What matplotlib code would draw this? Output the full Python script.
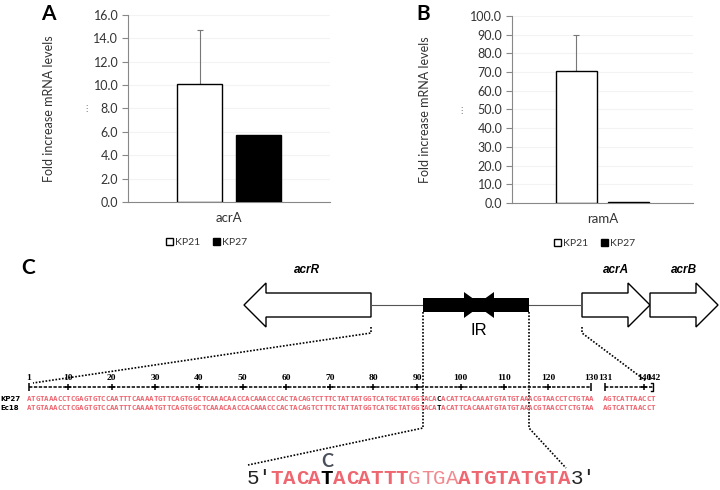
import numpy as np
import matplotlib
matplotlib.use('Agg')
import matplotlib.pyplot as plt
from matplotlib.patches import Polygon, Rectangle

plt.rcParams['font.family'] = ['Lato', 'DejaVu Sans']

##################################################################################################################################
# data
##################################################################################################################################

strains = ['KP21', 'KP27']
geneA = 'acrA'
acrAMeans = [10.1, 5.7]
acrAErr = [4.6, 0.0]
geneB = 'ramA'
ramAMeans = [70.5, 0.5]
ramAErr = [19.3, 0.0]

ticksA = np.arange(0, 17, 2)
ticksB = np.arange(0, 101, 10)

# gene map (name, tail x, tip x)
geneNames = ['acrR', 'acrA', 'acrB']
geneTails = [371, 582, 650]
geneTips = [244, 650, 718]
irStart, irEnd = 423, 529

rulerLabels = [1, 10, 20, 30, 40, 50, 60, 70, 80, 90, 100, 110, 120, 130, 131, 140, 142]
rowNames = ['KP27', 'Ec18']
kp27Seq = ('ATGTAAACCTCGAGTGTCCAATTTCAAAATGTTCAGTGGCTCAAACAACCACAAACCCACTACAGTCTTTCTATTATGGTCATGCTATGG'
           'TACACACATTCACAAATGTATGTAAACGTAACCTCTGTAA' 'AGTCATTAACCT')
ec18Seq = ('ATGTAAACCTCGAGTGTCCAATTTCAAAATGTTCAGTGGCTCAAACAACCACAAACCCACTACAGTCTTTCTATTATGGTCATGCTATGG'
           'TACATACATTCACAAATGTATGTAAACGTAACCTCTGTAA' 'AGTCATTAACCT')
mutPos = 95
irSeq = 'TACATACATTTGTGAATGTATGTA'
irThin = [11, 12, 13, 14]   # the TGTG spacer
irMut = 4
mutBase = 'C'

RED = '#ee6670'

def seqX(pos):
    if pos <= 130:
        return 29 + (pos - 1) * 4.36
    return 605 + (pos - 131) * 4.36

##################################################################################################################################
# bar panels
##################################################################################################################################

def barPanel(fig, rect, gene, means, errs, ticks, ylabelX, legendX):
    ax = fig.add_axes(rect)
    off = 0.145
    xs = [-off, off]
    ax.bar(xs[0], means[0], 0.225, color='white', edgecolor='black', lw=1.0, label=strains[0], zorder=3)
    ax.bar(xs[1], means[1], 0.225, color='black', edgecolor='black', lw=1.0, label=strains[1], zorder=3)
    for x, m, e in zip(xs, means, errs):
        if e > 0:
            ax.errorbar(x, m, yerr=[[0], [e]], color='#777777', lw=0.8, capsize=2, capthick=0.8, zorder=2)
    ax.set_xlim(-0.5, 0.5)
    ax.set_ylim(ticks[0], ticks[-1])
    ax.set_yticks(ticks)
    ax.set_yticklabels(['%.1f' % t for t in ticks], fontsize=9, color='#333333')
    ax.set_xticks([0])
    ax.set_xticklabels([gene], fontsize=9.5, color='#333333')
    ax.tick_params(axis='x', length=0, pad=7)
    ax.tick_params(axis='y', length=4, color='#888888', pad=3)
    for s in ['top', 'right']:
        ax.spines[s].set_visible(False)
    ax.spines['left'].set_color('#888888')
    ax.spines['bottom'].set_color('#888888')
    ax.yaxis.grid(True, color='#f3f3f3', lw=0.8)
    ax.set_axisbelow(True)
    ax.set_ylabel('Fold increase mRNA levels', fontsize=9, color='#333333')
    ax.yaxis.set_label_coords(ylabelX, 0.5)
    ax.legend(loc='upper left', bbox_to_anchor=(legendX, -0.14), ncol=2, frameon=False,
              fontsize=7.5, handlelength=0.7, handleheight=0.7, handletextpad=0.2,
              columnspacing=1.2, labelcolor='#333333')
    return ax

fig = plt.figure(figsize=(7.2, 4.9), dpi=100)

axA = barPanel(fig, [128/720, (490-202)/490, 202/720, 187/490], geneA, acrAMeans, acrAErr, ticksA, -0.36, 0.14)
axB = barPanel(fig, [512/720, (490-203)/490, 181/720, 187/490], geneB, ramAMeans, ramAErr, ticksB, -0.45, 0.18)

##################################################################################################################################
# panel C drawn in pixel-like coordinates
##################################################################################################################################

ax = fig.add_axes([0, 0, 1, 1], zorder=-1)
ax.set_xlim(0, 720)
ax.set_ylim(490, 0)
ax.axis('off')

ax.text(48, 14, 'A', fontsize=15, weight='bold', ha='center', va='center')
ax.text(423, 14, 'B', fontsize=15, weight='bold', ha='center', va='center')
ax.text(28, 268, 'C', fontsize=15, weight='bold', ha='center', va='center')
ax.text(86, 108, '\u22ee', fontsize=6, color='#666666', ha='center', va='center', family='DejaVu Sans')
ax.text(461, 110, '\u22ee', fontsize=6, color='#666666', ha='center', va='center', family='DejaVu Sans')

yc = 305
shaftH, headH, headL = 12, 22, 22
for name, tail, tip in zip(geneNames, geneTails, geneTips):
    d = np.sign(tip - tail)
    base = tip - d * headL
    pts = [(tail, yc - shaftH), (base, yc - shaftH), (base, yc - headH), (tip, yc),
           (base, yc + headH), (base, yc + shaftH), (tail, yc + shaftH)]
    ax.add_patch(Polygon(pts, closed=True, facecolor='white', edgecolor='black', lw=1.0))
    ax.text((tail + tip) / 2, 270, name, fontsize=8.5, style='italic', weight='bold',
            ha='center', va='center', family=['Liberation Sans', 'DejaVu Sans'])

# intergenic line and IR box
ax.plot([geneTails[0], geneTails[1]], [yc, yc], color='#555555', lw=0.8, zorder=1)
ax.add_patch(Rectangle((irStart, yc - 7), irEnd - irStart, 14, facecolor='black', zorder=2))
mid = 479
ax.add_patch(Polygon([(mid - 15, yc - 13), (mid - 15, yc + 13), (mid + 3, yc)], facecolor='black', zorder=3))
ax.add_patch(Polygon([(mid + 15, yc - 13), (mid + 15, yc + 13), (mid - 3, yc)], facecolor='black', zorder=3))
ax.text(mid, 330, 'IR', fontsize=12, ha='center', va='center', family=['Liberation Sans Narrow', 'Liberation Sans'])

# dotted zoom lines
dot = dict(color='black', lw=1.2, ls=(0, (1, 1)))
ax.plot([geneTails[0], geneTails[0], 33], [yc + 22, 333, 383], **dot)
ax.plot([geneTails[1], geneTails[1], 646], [yc + 22, 333, 381], **dot)
ax.plot([irStart, irStart, 248], [yc + 7, 428, 465], **dot)
ax.plot([irEnd, irEnd, 566], [yc + 7, 428, 468], **dot)

# ruler
rulerY = 387
ax.plot([seqX(1), seqX(130)], [rulerY, rulerY], color='black', lw=1.1, dashes=(2.2, 1))
ax.plot([seqX(131), seqX(142)], [rulerY, rulerY], color='black', lw=1.1, dashes=(2.2, 1))
tens = [p for p in rulerLabels if p % 10 == 0 and p not in (130,)]
ax.plot([seqX(p) for p in tens], [rulerY] * len(tens), '+', color='black', ms=4, mew=1.1)
ax.plot([seqX(p) for p in (1, 130, 131)], [rulerY] * 3, '|', color='black', ms=6, mew=1.1)
xe = seqX(142)
ax.plot([xe - 2, xe, xe, xe - 2], [rulerY - 4, rulerY - 4, rulerY + 4, rulerY + 4], color='black', lw=1.0)
for p in rulerLabels:
    ax.text(seqX(p), 378, str(p), fontsize=6.8, weight='bold', ha='center', va='center',
            family=['Liberation Serif', 'DejaVu Serif'])

# aligned sequences
for row, (name, seq) in enumerate(zip(rowNames, [kp27Seq, ec18Seq])):
    y = 399 + row * 9
    ax.text(0, y, name, fontsize=5, weight='bold', ha='left', va='center', family='DejaVu Sans')
    for i, ch in enumerate(seq):
        pos = i + 1
        col = 'black' if pos == mutPos else RED
        ax.text(seqX(pos), y, ch, fontsize=5.4, weight='bold', color=col, ha='center', va='center',
                family='DejaVu Sans Mono')

# inverted repeat sequence
step = 12.5
x0 = 277
mono = ['Liberation Mono', 'DejaVu Sans Mono']
ax.text(x0 - 2.4 * step, 478, "5'", fontsize=15, color='#222222', ha='left', va='center', family=mono)
for i, ch in enumerate(irSeq):
    if i == irMut:
        col, w = 'black', 'bold'
    elif i in irThin:
        col, w = '#f08a90', 'normal'
    else:
        col, w = RED, 'bold'
    ax.text(x0 + i * step, 478, ch, fontsize=15, color=col, weight=w, ha='center', va='center', family=mono)
ax.text(x0 + len(irSeq) * step - 6, 478, "3'", fontsize=15, color='#222222', ha='left', va='center', family=mono)
ax.text(x0 + irMut * step, 461, mutBase, fontsize=13, weight='bold', color='#4a4f5c', ha='center', va='center')

fig.savefig('out.png', dpi=100)
